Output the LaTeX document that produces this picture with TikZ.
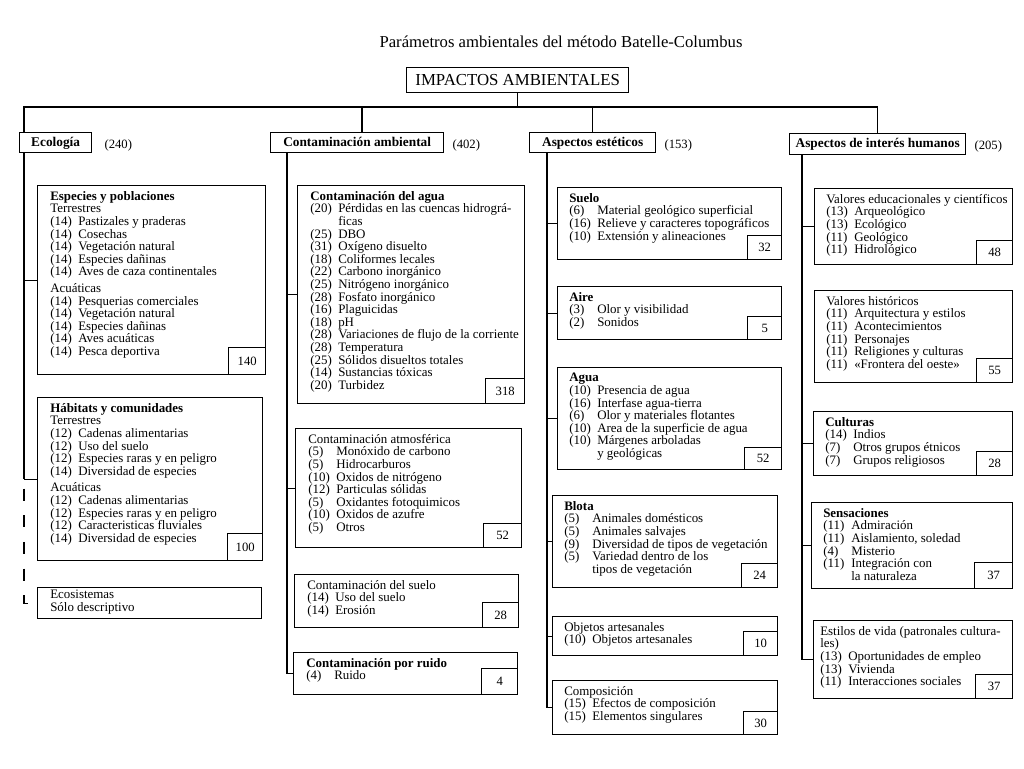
\documentclass[tikz,border=0pt]{standalone}
\usepackage{fontspec}
\setmainfont{Liberation Serif}
\usetikzlibrary{positioning}
\newcommand{\nm}[1]{\makebox[21pt][l]{(#1)}}
\newcommand{\sg}{\hspace*{21pt}}

\begin{document}
\begin{tikzpicture}[x=0.75pt,y=-0.75pt,
    linea/.style={line width=1pt},
    discont/.style={dash pattern=on 9pt off 11pt,dash phase=13pt},
    marco/.style 2 args={draw,line width=1pt,anchor=north west,inner sep=0pt,minimum width=#1*0.75pt,minimum height=#2*0.75pt},
    cifra/.style 2 args={draw,line width=1pt,anchor=south east,inner sep=0pt,minimum width=#1*0.75pt,minimum height=#2*0.75pt,font=\fontsize{9.5}{10}\selectfont},
    texto/.style={anchor=north west,align=left,inner sep=0pt,font=\fontsize{9.7}{9.45}\selectfont},
    grupo/.style 2 args={draw,line width=1pt,anchor=north west,inner sep=0pt,text height=7pt,text depth=1.5pt,minimum width=#1*0.75pt,minimum height=#2*0.75pt,font=\fontsize{10}{12}\selectfont\bfseries},
    total/.style={font=\fontsize{9.5}{11}\selectfont,inner sep=0pt,yshift=-2pt}]
    \path[use as bounding box,fill=white] (0,0) rectangle (1024,768);

    % cabecera
    \node[font=\fontsize{12.5}{14}\selectfont] (titulo) at (561,42) {Parámetros ambientales del método Batelle-Columbus};
    \node[draw,line width=1pt,anchor=north west,inner sep=0pt,minimum width=222*0.75pt,minimum height=25*0.75pt,font=\fontsize{12.6}{14}\selectfont] (impactos) at (406,67) {IMPACTOS AMBIENTALES};

    % categorias
    \node[grupo={72}{20}] (ecologia) at (19,132) {Ecología};
    \node[grupo={173}{20}] (contam) at (270,132) {Contaminación ambiental};
    \node[grupo={126}{20}] (esteticos) at (529,132) {Aspectos estéticos};
    \node[grupo={176}{21}] (humanos) at (789,133) {Aspectos de interés humanos};
    \node[total,right=9pt of ecologia] (ecologiaP) {(240)};
    \node[total,right=6pt of contam] (contamP) {(402)};
    \node[total,right=6pt of esteticos] (esteticosP) {(153)};
    \node[total,right=6pt of humanos] (humanosP) {(205)};

    % Ecologia
    \node[marco={228}{189}] (especies) at (37,185) {};
    \node[texto] (especiesT) at ([shift={(13,6)}]especies.north west) {\textbf{Especies y poblaciones}\\Terrestres\\\nm{14}Pastizales y praderas\\\nm{14}Cosechas\\\nm{14}Vegetación natural\\\nm{14}Especies dañinas\\\nm{14}Aves de caza continentales\\[3pt]Acuáticas\\\nm{14}Pesquerias comerciales\\\nm{14}Vegetación natural\\\nm{14}Especies dañinas\\\nm{14}Aves acuáticas\\\nm{14}Pesca deportiva};
    \node[cifra={37}{27}] (especiesN) at (especies.south east) {140};

    \node[marco={225}{163}] (habitats) at (37,397) {};
    \node[texto] (habitatsT) at ([shift={(13,6)}]habitats.north west) {\textbf{Hábitats y comunidades}\\Terrestres\\\nm{12}Cadenas alimentarias\\\nm{12}Uso del suelo\\\nm{12}Especies raras y en peligro\\\nm{14}Diversidad de especies\\[3pt]Acuáticas\\\nm{12}Cadenas alimentarias\\\nm{12}Especies raras y en peligro\\\nm{12}Caracteristicas fluviales\\\nm{14}Diversidad de especies};
    \node[cifra={35}{27}] (habitatsN) at (habitats.south east) {100};

    \node[marco={224}{31}] (ecosis) at (37,587) {};
    \node[texto] (ecosisT) at ([shift={(13,3)}]ecosis.north west) {Ecosistemas\\Sólo descriptivo};

    % Contaminacion ambiental
    \node[marco={227}{218}] (aguaC) at (297,185) {};
    \node[texto] (aguaCT) at ([shift={(13,6)}]aguaC.north west) {\textbf{Contaminación del agua}\\\nm{20}Pérdidas en las cuencas hidrográ-\\\sg ficas\\\nm{25}DBO\\\nm{31}Oxígeno disuelto\\\nm{18}Coliformes lecales\\\nm{22}Carbono inorgánico\\\nm{25}Nitrógeno inorgánico\\\nm{28}Fosfato inorgánico\\\nm{16}Plaguicidas\\\nm{18}pH\\\nm{28}Variaciones de flujo de la corriente\\\nm{28}Temperatura\\\nm{25}Sólidos disueltos totales\\\nm{14}Sustancias tóxicas\\\nm{20}Turbidez};
    \node[cifra={39}{25}] (aguaCN) at (aguaC.south east) {318};

    \node[marco={226}{119}] (atmos) at (295,428) {};
    \node[texto] (atmosT) at ([shift={(13,6)}]atmos.north west) {Contaminación atmosférica\\\nm{5}Monóxido de carbono\\\nm{5}Hidrocarburos\\\nm{10}Oxidos de nitrógeno\\\nm{12}Particulas sólidas\\\nm{5}Oxidantes fotoquimicos\\\nm{10}Oxidos de azufre\\\nm{5}Otros};
    \node[cifra={38}{24}] (atmosN) at (atmos.south east) {52};

    \node[marco={224}{53}] (sueloC) at (294,574) {};
    \node[texto] (sueloCT) at ([shift={(13,6)}]sueloC.north west) {Contaminación del suelo\\\nm{14}Uso del suelo\\\nm{14}Erosión};
    \node[cifra={36}{25}] (sueloCN) at (sueloC.south east) {28};

    \node[marco={224}{42}] (ruido) at (293,652) {};
    \node[texto] (ruidoT) at ([shift={(13,6)}]ruido.north west) {\textbf{Contaminación por ruido}\\\nm{4}Ruido};
    \node[cifra={36}{26}] (ruidoN) at (ruido.south east) {4};

    % Aspectos esteticos
    \node[marco={224}{72}] (sueloE) at (557,187) {};
    \node[texto] (sueloET) at ([shift={(12,6)}]sueloE.north west) {\textbf{Suelo}\\\nm{6}Material geológico superficial\\\nm{16}Relieve y caracteres topográficos\\\nm{10}Extensión y alineaciones};
    \node[cifra={34}{24}] (sueloEN) at (sueloE.south east) {32};

    \node[marco={224}{53}] (aire) at (557,286) {};
    \node[texto] (aireT) at ([shift={(12,6)}]aire.north west) {\textbf{Aire}\\\nm{3}Olor y visibilidad\\\nm{2}Sonidos};
    \node[cifra={34}{23}] (aireN) at (aire.south east) {5};

    \node[marco={224}{102}] (aguaE) at (557,367) {};
    \node[texto] (aguaET) at ([shift={(12,6)}]aguaE.north west) {\textbf{Agua}\\\nm{10}Presencia de agua\\\nm{16}Interfase agua-tierra\\\nm{6}Olor y materiales flotantes\\\nm{10}Area de la superficie de agua\\\nm{10}Márgenes arboladas\\\sg y geológicas};
    \node[cifra={37}{22}] (aguaEN) at (aguaE.south east) {52};

    \node[marco={225}{92}] (blota) at (552,495) {};
    \node[texto] (blotaT) at ([shift={(12,6)}]blota.north west) {\textbf{Blota}\\\nm{5}Animales domésticos\\\nm{5}Animales salvajes\\\nm{9}Diversidad de tipos de vegetación\\\nm{5}Variedad dentro de los\\\sg tipos de vegetación};
    \node[cifra={36}{24}] (blotaN) at (blota.south east) {24};

    \node[marco={225}{39}] (objetos) at (552,616) {};
    \node[texto] (objetosT) at ([shift={(12,6)}]objetos.north west) {Objetos artesanales\\\nm{10}Objetos artesanales};
    \node[cifra={34}{24}] (objetosN) at (objetos.south east) {10};

    \node[marco={225}{54}] (compos) at (552,680) {};
    \node[texto] (composT) at ([shift={(12,6)}]compos.north west) {Composición\\\nm{15}Efectos de composición\\\nm{15}Elementos singulares};
    \node[cifra={34}{23}] (composN) at (compos.south east) {30};

    % Aspectos de interes humanos
    \node[marco={198}{76}] (educ) at (814,188) {};
    \node[texto] (educT) at ([shift={(12,6)}]educ.north west) {Valores educacionales y científicos\\\nm{13}Arqueológico\\\nm{13}Ecológico\\\nm{11}Geológico\\\nm{11}Hidrológico};
    \node[cifra={36}{24}] (educN) at (educ.south east) {48};

    \node[marco={198}{92}] (historia) at (814,290) {};
    \node[texto] (historiaT) at ([shift={(12,6)}]historia.north west) {Valores históricos\\\nm{11}Arquitectura y estilos\\\nm{11}Acontecimientos\\\nm{11}Personajes\\\nm{11}Religiones y culturas\\\nm{11}«Frontera del oeste»};
    \node[cifra={36}{24}] (historiaN) at (historia.south east) {55};

    \node[marco={199}{64}] (culturas) at (813,411) {};
    \node[texto] (culturasT) at ([shift={(12,6)}]culturas.north west) {\textbf{Culturas}\\\nm{14}Indios\\\nm{7}Otros grupos étnicos\\\nm{7}Grupos religiosos};
    \node[cifra={36}{24}] (culturasN) at (culturas.south east) {28};

    \node[marco={201}{86}] (sensac) at (811,502) {};
    \node[texto] (sensacT) at ([shift={(12,6)}]sensac.north west) {\textbf{Sensaciones}\\\nm{11}Admiración\\\nm{11}Aislamiento, soledad\\\nm{4}Misterio\\\nm{11}Integración con\\\sg la naturaleza};
    \node[cifra={38}{26}] (sensacN) at (sensac.south east) {37};

    \node[marco={199}{78}] (estilos) at (813,620) {};
    \node[texto] (estilosT) at ([shift={(7,6)}]estilos.north west) {Estilos de vida (patronales cultura-\\les)\\\nm{13}Oportunidades de empleo\\\nm{13}Vivienda\\\nm{11}Interacciones sociales};
    \node[cifra={37}{24}] (estilosN) at (estilos.south east) {37};

    % lineas
    \coordinate (bus) at (0,107);
    \coordinate (cn) at (362,132);
    \coordinate (s1) at (24,152);
    \coordinate (s2) at (287,152);
    \coordinate (s3) at (547,152);
    \coordinate (s4) at (802,154);
    \draw[linea] (impactos.south) -- (impactos.south |- bus);
    \draw[linea] (s1 |- ecologia.north) -- (s1 |- bus) -- (humanos.north |- bus) -- (humanos.north);
    \draw[linea] (cn |- bus) -- (cn);
    \draw[linea] (esteticos.north |- bus) -- (esteticos.north);

    \draw[linea] (s1) -- (s1 |- habitats.west);
    \foreach \b in {especies,habitats} \draw[linea] (s1 |- \b.west) -- (\b.west);
    \draw[linea,discont] (s1 |- habitats.west) |- (ecosis.west);

    \draw[linea] (s2) |- (ruido.west);
    \foreach \b in {aguaC,atmos} \draw[linea] (s2 |- \b.west) -- (\b.west);

    \draw[linea] (s3) |- (compos.west);
    \foreach \b in {sueloE,aire,aguaE,blota,objetos} \draw[linea] (s3 |- \b.west) -- (\b.west);

    \draw[linea] (s4) |- (estilos.west);
    \foreach \b in {educ,culturas,sensac} \draw[linea] (s4 |- \b.west) -- (\b.west);
\end{tikzpicture}
\end{document}
